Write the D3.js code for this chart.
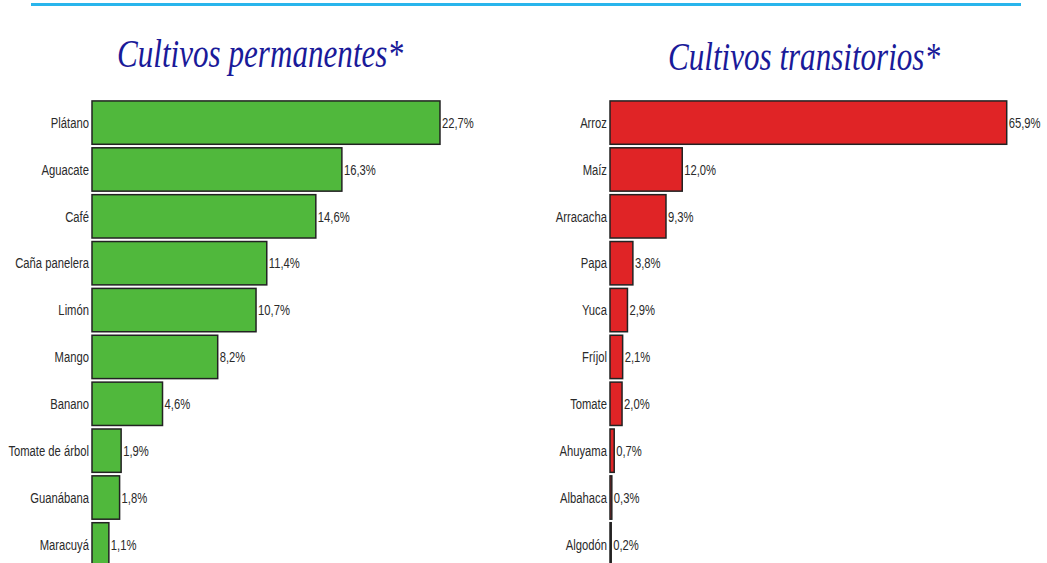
<!DOCTYPE html>
<meta charset="utf-8">
<html>
<head>
    <script src="https://d3js.org/d3.v7.min.js"></script>
    <style>
        body { margin: 0; background: #fff; }
        .lbl { font-family: "Liberation Sans", Arial, sans-serif; font-size: 15px; fill: #2a2a2a; }
        .title { font-family: "Liberation Serif", "Times New Roman", serif; font-style: italic; fill: #1a1a99; }
    </style>
</head>
<body>
    <div id="chart"></div>
    <script>
        // datos
        var permCats = ["Plátano", "Aguacate", "Café", "Caña panelera", "Limón", "Mango", "Banano", "Tomate de árbol", "Guanábana", "Maracuyá"];
        var permVals = [22.7, 16.3, 14.6, 11.4, 10.7, 8.2, 4.6, 1.9, 1.8, 1.1];
        var tranCats = ["Arroz", "Maíz", "Arracacha", "Papa", "Yuca", "Fríjol", "Tomate", "Ahuyama", "Albahaca", "Algodón"];
        var tranVals = [65.9, 12.0, 9.3, 3.8, 2.9, 2.1, 2.0, 0.7, 0.3, 0.2];

        var W = 1047, H = 563;
        var svg = d3.select("#chart").append("svg")
            .attr("width", W).attr("height", H);

        // linea superior
        svg.append("rect")
            .attr("x", 31).attr("y", 3)
            .attr("width", 990).attr("height", 3)
            .attr("fill", "#29b5ec");

        var fmt = function (v) { return v.toFixed(1).replace(".", ",") + "%"; };
        var sx = 0.75; // letra angosta

        function panel(cats, vals, x0, pxPerUnit, color, title, tx, ty, tlen) {
            var g = svg.append("g");
            var x = d3.scaleLinear().domain([0, 1]).range([x0, x0 + pxPerUnit]);
            var y = d3.scaleBand().domain(cats).range([100, 100 + 46.7 * cats.length]).paddingInner(0.075).paddingOuter(0.02);

            g.append("text").attr("class", "title")
                .attr("x", tx).attr("y", ty)
                .attr("font-size", 40)
                .attr("textLength", tlen).attr("lengthAdjust", "spacingAndGlyphs")
                .text(title);

            g.selectAll("rect.bar").data(cats).enter().append("rect")
                .attr("class", "bar")
                .attr("x", x(0))
                .attr("y", function (d) { return y(d); })
                .attr("width", function (d, i) { return x(vals[i]) - x(0); })
                .attr("height", y.bandwidth())
                .attr("fill", color)
                .attr("stroke", "#222")
                .attr("stroke-width", 1.5);

            g.selectAll("text.cat").data(cats).enter().append("text")
                .attr("class", "lbl cat")
                .attr("transform", function (d) {
                    return "translate(" + (x(0) - 3) + "," + (y(d) + y.bandwidth() / 2) + ") scale(" + sx + ",1)";
                })
                .attr("dy", "0.35em")
                .attr("text-anchor", "end")
                .text(function (d) { return d; });

            g.selectAll("text.val").data(cats).enter().append("text")
                .attr("class", "lbl val")
                .attr("transform", function (d, i) {
                    return "translate(" + (x(vals[i]) + 2) + "," + (y(d) + y.bandwidth() / 2) + ") scale(" + sx + ",1)";
                })
                .attr("dy", "0.35em")
                .text(function (d, i) { return fmt(vals[i]); });
        }

        panel(permCats, permVals, 92, 15.33, "#50b83c", "Cultivos permanentes*", 117, 67, 286);
        panel(tranCats, tranVals, 610, 6.02, "#e02426", "Cultivos transitorios*", 668, 70, 272);
    </script>
</body>
</html>
